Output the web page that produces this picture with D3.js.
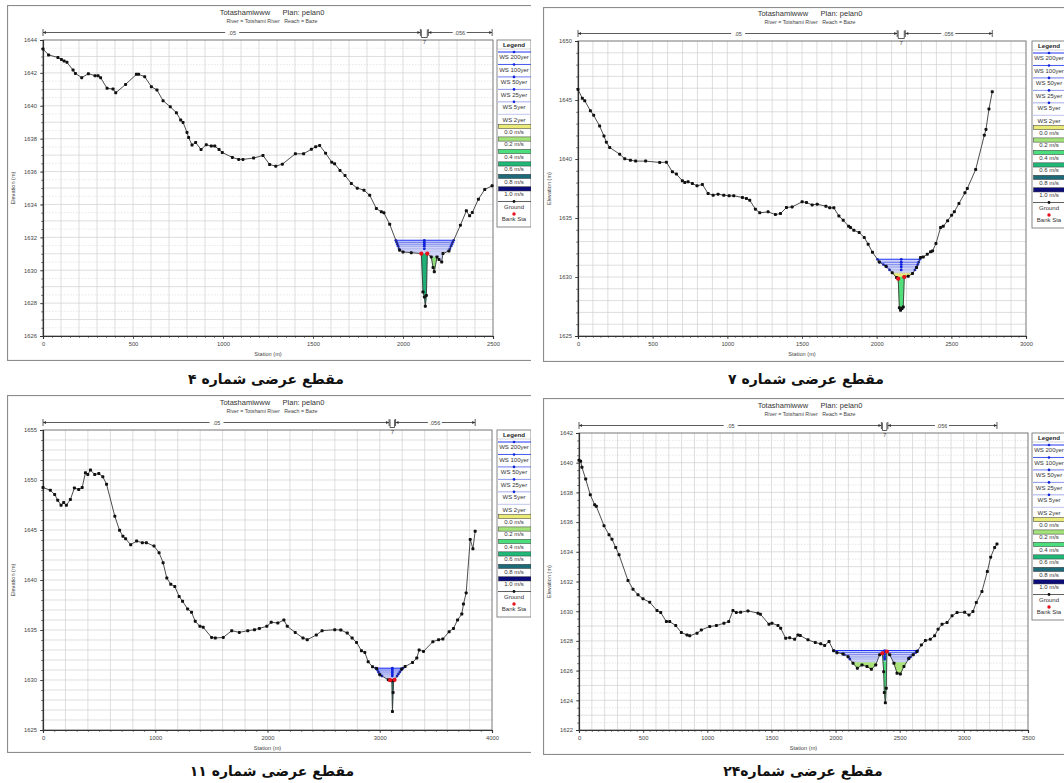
<!DOCTYPE html>
<html>
<head>
<meta charset="utf-8">
<script src="https://cdn.jsdelivr.net/npm/d3@7"></script>
<style>
  body { margin: 0; background: #fff; }
  svg { display: block; font-family: "Liberation Sans", Arial, sans-serif; }
</style>
</head>
<body>
<svg id="chart" width="1064" height="783"></svg>
<script>
const sec4Station = [0,31,83,102,117,133,167,180,215,252,289,306,320,356,389,404,459,519,531,565,602,633,667,707,741,765,778,800,809,828,848,878,907,935,954,978,996,1052,1087,1111,1170,1222,1259,1293,1330,1402,1448,1491,1515,1537,1570,1604,1620,1650,1678,1713,1746,1783,1815,1852,1880,1894,1926,1981,2000,2046,2102,2111,2119,2124,2130,2135,2157,2167,2174,2189,2200,2215,2222,2255,2319,2352,2370,2385,2419,2454,2495];
const sec4Elev = [1643.45,1643.09,1642.94,1642.82,1642.72,1642.64,1642.17,1641.97,1641.71,1641.95,1641.83,1641.83,1641.71,1641.06,1641.02,1640.79,1641.30,1641.91,1641.91,1641.77,1641.16,1640.96,1640.31,1639.94,1639.58,1639.13,1638.99,1638.38,1638.07,1637.61,1637.77,1637.34,1637.63,1637.55,1637.55,1637.34,1637.16,1636.86,1636.74,1636.74,1636.82,1636.98,1636.43,1636.33,1636.45,1637.08,1637.08,1637.36,1637.51,1637.59,1637.12,1636.57,1636.47,1636.07,1635.76,1635.27,1634.99,1634.87,1634.56,1633.75,1633.55,1633.49,1632.80,1631.22,1631.11,1631.07,1631.01,1628.68,1628.37,1627.81,1628.47,1631.01,1630.81,1630.16,1629.90,1630.81,1630.65,1630.50,1631.01,1631.17,1632.74,1633.61,1633.31,1633.51,1634.32,1634.91,1635.13];
const sec4WS = [1631.82, 1631.70, 1631.58, 1631.46, 1631.30, 1631.15];
const sec4Banks = [2102, 2135];
const sec4Vel = [[2095, 2140, 1631.0, 0.62], [2150, 2195, 1630.8, 0.25]];

const sec7Station = [0,29,45,83,105,145,174,190,212,279,313,351,386,453,547,592,632,659,699,715,737,766,797,833,871,905,938,976,1012,1043,1101,1128,1150,1188,1217,1273,1322,1356,1396,1434,1501,1530,1568,1602,1660,1686,1713,1747,1776,1812,1825,1847,1883,1917,1943,1972,2017,2062,2104,2133,2144,2152,2160,2170,2178,2185,2211,2240,2267,2294,2312,2339,2361,2374,2397,2428,2446,2475,2502,2520,2551,2591,2607,2663,2721,2732,2752,2774];
const sec7Elev = [1645.90,1645.14,1644.94,1644.09,1643.70,1642.79,1641.94,1641.43,1640.98,1640.41,1640.02,1639.90,1639.82,1639.82,1639.71,1639.73,1638.91,1638.72,1638.15,1638.01,1638.07,1637.92,1637.73,1637.84,1637.08,1636.93,1637.02,1636.93,1636.88,1636.88,1636.74,1636.65,1636.51,1635.75,1635.44,1635.52,1635.29,1635.38,1635.89,1635.94,1636.37,1636.31,1636.11,1636.17,1636.00,1635.86,1635.86,1635.18,1634.81,1634.30,1634.19,1633.96,1633.77,1633.34,1632.78,1632.10,1631.28,1630.91,1630.37,1629.95,1629.86,1627.40,1627.18,1627.32,1627.46,1630.00,1630.06,1630.29,1630.80,1631.65,1631.70,1631.93,1632.13,1632.21,1632.83,1634.19,1634.30,1634.76,1635.24,1635.52,1636.23,1637.13,1637.50,1639.11,1642.02,1642.51,1644.23,1645.70];
const sec7WS = [1631.50, 1631.25, 1631.05, 1630.85, 1630.60, 1630.35];
const sec7Banks = [2144, 2185];
const sec7Vel = [[2090, 2260, 1630.35, 0.0], [2120, 2200, 1630.0, 0.38]];

const sec11Station = [0,65,104,131,161,184,208,244,280,318,349,378,399,423,461,497,533,566,640,682,712,736,781,834,885,921,989,1034,1070,1103,1138,1174,1213,1243,1288,1323,1356,1398,1427,1502,1535,1606,1681,1749,1824,1884,1928,1994,2033,2092,2146,2176,2247,2316,2354,2435,2486,2599,2653,2710,2754,2793,2837,2867,2897,2936,2972,3001,3076,3092,3108,3113,3119,3124,3132,3196,3226,3292,3330,3351,3390,3473,3524,3562,3618,3657,3693,3731,3746,3770,3806,3830,3850];
const sec11Elev = [1649.25,1648.98,1648.55,1647.98,1647.48,1647.74,1647.48,1648.05,1649.21,1649.05,1649.25,1650.72,1650.55,1650.99,1650.55,1650.65,1650.32,1649.58,1646.37,1644.97,1644.37,1644.13,1643.53,1643.89,1643.73,1643.73,1643.39,1642.73,1641.73,1640.19,1639.58,1639.35,1638.35,1637.88,1637.11,1636.78,1635.87,1635.37,1635.27,1634.26,1634.20,1634.26,1634.93,1634.76,1634.93,1635.03,1635.16,1635.37,1635.77,1635.70,1636.00,1635.37,1634.76,1634.20,1634.03,1634.50,1634.93,1635.03,1635.00,1634.70,1634.20,1633.76,1632.93,1632.76,1631.82,1631.32,1631.15,1630.52,1630.02,1629.98,1629.92,1626.84,1628.75,1629.95,1630.02,1631.09,1631.35,1631.75,1632.20,1632.99,1632.86,1633.83,1634.03,1634.10,1634.83,1635.16,1636.00,1636.60,1637.60,1638.71,1644.06,1643.13,1644.87];
const sec11WS = [1631.18, 1631.00, 1630.80, 1630.60, 1630.40, 1630.20];
const sec11Banks = [3092, 3132];
const sec11Vel = [[3080, 3140, 1630.0, 0.72]];

const sec24Station = [0,13,23,52,88,122,135,195,234,257,286,312,382,421,460,499,551,608,637,681,707,754,798,842,863,920,954,1019,1071,1130,1167,1200,1226,1260,1317,1395,1414,1481,1504,1551,1572,1611,1642,1681,1707,1725,1785,1842,1884,1915,1949,1985,2011,2058,2097,2136,2170,2206,2245,2279,2313,2344,2365,2375,2380,2388,2395,2400,2422,2455,2479,2505,2533,2572,2604,2635,2669,2700,2739,2772,2799,2830,2869,2908,2947,3006,3040,3071,3097,3141,3183,3209,3240,3258];
const sec24Elev = [1640.16,1640.09,1639.69,1638.90,1637.84,1637.17,1637.06,1635.75,1635.15,1634.85,1634.29,1633.80,1632.07,1631.48,1631.10,1630.83,1630.61,1630.04,1629.91,1629.30,1629.30,1629.03,1628.56,1628.40,1628.34,1628.52,1628.74,1628.97,1629.03,1629.19,1629.30,1630.04,1629.91,1629.93,1630.02,1629.87,1629.80,1629.12,1629.19,1629.03,1628.85,1628.18,1628.22,1628.11,1628.40,1628.36,1628.07,1627.89,1627.80,1627.69,1627.96,1627.33,1627.21,1627.12,1626.94,1626.49,1626.16,1626.38,1626.27,1626.09,1626.38,1627.06,1627.17,1625.93,1624.52,1623.84,1624.81,1627.28,1627.06,1626.49,1625.82,1625.77,1626.27,1626.83,1627.06,1627.28,1627.73,1628.02,1628.11,1628.34,1628.79,1629.12,1629.24,1629.69,1629.91,1629.93,1629.75,1629.98,1630.58,1631.33,1632.67,1633.64,1634.29,1634.52];
const sec24WS = [1627.35, 1627.22, 1627.08, 1626.92, 1626.78, 1626.62];
const sec24Banks = [2365, 2400];
const sec24Vel = [[2080, 2340, 1626.55, 0.18], [2430, 2620, 1626.55, 0.18], [2350, 2420, 1627.15, 0.40]];

const wsNames = ["WS 200yer", "WS 100yer", "WS 50yer", "WS 25yer", "WS 5yer", "WS 2yer"];
const velValues = [0.0, 0.2, 0.4, 0.6, 0.8, 1.0];
const velLabels = ["0.0 m/s", "0.2 m/s", "0.4 m/s", "0.6 m/s", "0.8 m/s", "1.0 m/s"];
const captions = ["مقطع عرضی شماره ۴", "مقطع عرضی شماره ۷", "مقطع عرضی شماره ۱۱", "مقطع عرضی شماره۲۴"];
const titleText = "Totashamiwww      Plan: pelan0";
const subText = "River = Totshami River   Reach = Baze";

// colours
const wsColors = ["#1f33f5", "#4656ee", "#6c79ec", "#8a94ea", "#a5acea", "#c0c5ee"];
const velColors = ["#eaea78", "#a4e27a", "#4ade7c", "#1fb877", "#1e6a78", "#0c0c7a"];
const velColor = d3.scaleLinear().domain(velValues).range(velColors);

// axis setup per section
const sections = [
  { st: sec4Station, el: sec4Elev, ws: sec4WS, banks: sec4Banks, vel: sec4Vel, xMax: 2500, yDom: [1626, 1644], xLab: 500, xGrid: 100, yLab: 2, yHalf: true },
  { st: sec7Station, el: sec7Elev, ws: sec7WS, banks: sec7Banks, vel: sec7Vel, xMax: 3000, yDom: [1625, 1650], xLab: 500, xGrid: 100, yLab: 5, yHalf: false },
  { st: sec11Station, el: sec11Elev, ws: sec11WS, banks: sec11Banks, vel: sec11Vel, xMax: 4000, yDom: [1625, 1655], xLab: 1000, xGrid: 200, yLab: 5, yHalf: false },
  { st: sec24Station, el: sec24Elev, ws: sec24WS, banks: sec24Banks, vel: sec24Vel, xMax: 3500, yDom: [1622, 1642], xLab: 500, xGrid: 100, yLab: 2, yHalf: true }
];

// page layout of the four panels
const layout = [
  { frame: [7, 5, 524, 356], plot: [43, 40, 493, 336], legendX: 497, titleX: 272, capX: 266, capY: 384 },
  { frame: [543, 7, 530, 355], plot: [578, 41, 1026, 336], legendX: 1032, titleX: 810, capX: 806, capY: 384 },
  { frame: [7, 395, 524, 358], plot: [43, 430, 492, 730], legendX: 497, titleX: 272, capX: 272, capY: 776 },
  { frame: [543, 398, 530, 357], plot: [579, 433, 1028, 730], legendX: 1032, titleX: 810, capX: 803, capY: 776 }
];

const svg = d3.select("#chart");

// areas of the ground lying below a level
function wetPolys(st, el, level) {
  const polys = [];
  let cur = null;
  for (let i = 0; i < st.length; i++) {
    const below = el[i] < level;
    if (i > 0) {
      const wasBelow = el[i - 1] < level;
      if (below !== wasBelow) {
        const t = (level - el[i - 1]) / (el[i] - el[i - 1]);
        const sx = st[i - 1] + t * (st[i] - st[i - 1]);
        if (below) cur = [[sx, level]];
        else { cur.push([sx, level]); polys.push(cur); cur = null; }
      }
    } else if (below) cur = [[st[0], level]];
    if (below) cur.push([st[i], el[i]]);
  }
  if (cur) { cur.push([st[st.length - 1], level]); polys.push(cur); }
  return polys;
}

function drawLegend(g, lx, ty) {
  const w = 34, rh = 12.46;
  g.append("rect").attr("x", lx).attr("y", ty).attr("width", w).attr("height", 187)
    .attr("fill", "#fff").attr("stroke", "#7a7a7a").attr("stroke-width", 0.9);
  g.append("text").attr("x", lx + w / 2).attr("y", ty + 7).attr("text-anchor", "middle")
    .attr("font-size", 6.2).attr("font-weight", "bold").attr("fill", "#222").text("Legend");
  g.append("line").attr("x1", lx).attr("x2", lx + w).attr("y1", ty + 9).attr("y2", ty + 9)
    .attr("stroke", "#aaa").attr("stroke-width", 0.5);
  const rows = wsNames.map((n, i) => ({ type: "ws", i, label: n }))
    .concat(velLabels.map((n, i) => ({ type: "vel", i, label: n })))
    .concat([{ type: "ground", label: "Ground" }, { type: "bank", label: "Bank Sta" }]);
  rows.forEach((r, k) => {
    const sy = ty + 12 + k * rh;
    const tyy = sy + 7.2;
    const cx = lx + w / 2;
    if (r.type === "ws") {
      g.append("line").attr("x1", lx + 1).attr("x2", lx + w).attr("y1", sy).attr("y2", sy)
        .attr("stroke", wsColors[r.i]).attr("stroke-width", 1);
      if (r.i < 5) g.append("circle").attr("cx", cx).attr("cy", sy).attr("r", 1.3).attr("fill", "#1122dd");
    } else if (r.type === "vel") {
      g.append("rect").attr("x", lx + 1.5).attr("y", sy - 2.3).attr("width", w - 1.5).attr("height", 4.2)
        .attr("fill", velColor(velValues[r.i])).attr("stroke", "#333").attr("stroke-width", 0.5);
    } else if (r.type === "ground") {
      g.append("line").attr("x1", lx + 1).attr("x2", lx + w).attr("y1", sy).attr("y2", sy)
        .attr("stroke", "#333").attr("stroke-width", 0.8);
      g.append("circle").attr("cx", cx).attr("cy", sy).attr("r", 1.4).attr("fill", "#111");
    } else {
      g.append("circle").attr("cx", cx).attr("cy", sy).attr("r", 1.7).attr("fill", "#e8101a");
    }
    g.append("text").attr("x", cx).attr("y", tyy).attr("text-anchor", "middle")
      .attr("font-size", 6).attr("fill", "#333").text(r.label);
  });
}

sections.forEach((s, idx) => {
  const L = layout[idx];
  const [fx, fy, fw, fh] = L.frame;
  const [pl, pt, pr, pb] = L.plot;

  svg.append("clipPath").attr("id", "clip" + idx)
    .append("rect").attr("x", fx).attr("y", fy).attr("width", fw).attr("height", fh);

  const g = svg.append("g").attr("clip-path", `url(#clip${idx})`);

  // outer frame
  g.append("rect").attr("x", fx + 0.5).attr("y", fy + 0.5).attr("width", fw + 20).attr("height", fh - 1)
    .attr("fill", "#fff").attr("stroke", "#8c8c8c").attr("stroke-width", 1.2);

  const x = d3.scaleLinear().domain([0, s.xMax]).range([pl, pr]);
  const y = d3.scaleLinear().domain(s.yDom).range([pb, pt]);

  // grid
  const grid = g.append("g");
  grid.selectAll(".vx").data(d3.range(s.xGrid, s.xMax, s.xGrid)).join("line")
    .attr("x1", d => x(d)).attr("x2", d => x(d)).attr("y1", pt).attr("y2", pb)
    .attr("stroke", "#d0d0d0").attr("stroke-width", 0.7);
  grid.selectAll(".hy").data(d3.range(s.yDom[0] + 1, s.yDom[1], 1)).join("line")
    .attr("x1", pl).attr("x2", pr).attr("y1", d => y(d)).attr("y2", d => y(d))
    .attr("stroke", "#d0d0d0").attr("stroke-width", 0.7);
  if (s.yHalf) {
    grid.selectAll(".hh").data(d3.range(s.yDom[0] + 0.5, s.yDom[1], 1)).join("line")
      .attr("x1", pl).attr("x2", pr).attr("y1", d => y(d)).attr("y2", d => y(d))
      .attr("stroke", "#d8d8d8").attr("stroke-width", 0.6).attr("stroke-dasharray", "1.5,1.5");
  }
  g.append("rect").attr("x", pl).attr("y", pt).attr("width", pr - pl).attr("height", pb - pt)
    .attr("fill", "none").attr("stroke", "#777").attr("stroke-width", 1);

  // axes
  const yAxis = d3.axisLeft(y).tickValues(d3.range(s.yDom[0], s.yDom[1] + 0.01, s.yLab))
    .tickFormat(d3.format("d")).tickSize(3);
  const yMinor = d3.axisLeft(y).tickValues(d3.range(s.yDom[0], s.yDom[1] + 0.01, s.yHalf ? 0.5 : 1))
    .tickFormat("").tickSize(1.8);
  const xAxis = d3.axisBottom(x).tickValues(d3.range(0, s.xMax + 1, s.xLab))
    .tickFormat(d3.format("d")).tickSize(3);
  const xMinor = d3.axisBottom(x).tickValues(d3.range(0, s.xMax + 1, s.xGrid / 2))
    .tickFormat("").tickSize(1.8);
  [[yMinor, `translate(${pl},0)`], [yAxis, `translate(${pl},0)`],
   [xMinor, `translate(0,${pb})`], [xAxis, `translate(0,${pb})`]].forEach(([ax, tr]) => {
    const a = g.append("g").attr("transform", tr).call(ax);
    a.select(".domain").attr("stroke", "#333").attr("stroke-width", 1.1);
    a.selectAll(".tick line").attr("stroke", "#333").attr("stroke-width", 0.7);
    a.selectAll("text").attr("font-size", 5.8).attr("fill", "#444")
      .attr("font-family", "Liberation Sans, Arial, sans-serif");
  });

  g.append("text").attr("x", (pl + pr) / 2).attr("y", pb + 20).attr("text-anchor", "middle")
    .attr("font-size", 5.6).attr("fill", "#444").text("Station (m)");
  g.append("text").attr("transform", `translate(${fx + 8},${(pt + pb) / 2}) rotate(-90)`)
    .attr("text-anchor", "middle").attr("font-size", 5.6).attr("fill", "#444").text("Elevation (m)");

  // titles
  g.append("text").attr("x", L.titleX).attr("y", pt - 25).attr("text-anchor", "middle")
    .attr("font-size", 7.5).attr("fill", "#333").style("white-space", "pre").text(titleText);
  g.append("text").attr("x", L.titleX).attr("y", pt - 17).attr("text-anchor", "middle")
    .attr("font-size", 5.3).attr("fill", "#444").style("white-space", "pre").text(subText);

  // manning's n bar
  const my = pt - 7.5;
  const s0 = s.st[0], s1 = s.st[s.st.length - 1];
  const bl = x(s.banks[0]), br = x(s.banks[1]);
  const man = g.append("g").attr("stroke", "#333").attr("stroke-width", 0.8).attr("fill", "none");
  man.append("line").attr("x1", x(s0)).attr("x2", bl - 1).attr("y1", my).attr("y2", my);
  man.append("line").attr("x1", br + 1).attr("x2", x(s1)).attr("y1", my).attr("y2", my);
  [x(s0), bl - 1, br + 1, x(s1)].forEach(px => {
    man.append("line").attr("x1", px).attr("x2", px).attr("y1", my - 3.5).attr("y2", my + 3.5);
  });
  man.append("path").attr("d", `M${bl},${my - 3}V${my + 5}H${br}V${my - 3}`);
  const arrows = [[x(s0), 1], [bl - 1, -1], [br + 1, 1], [x(s1), -1]];
  arrows.forEach(([px, dir]) => {
    g.append("path").attr("d", `M${px},${my}l${dir * 3},-1.4v2.8z`).attr("fill", "#333");
  });
  [[(x(s0) + bl) / 2, ".05"], [(br + x(s1)) / 2, ".056"]].forEach(([px, lab]) => {
    g.append("rect").attr("x", px - 7).attr("y", my - 3).attr("width", 14).attr("height", 6).attr("fill", "#fff");
    g.append("text").attr("x", px).attr("y", my + 2).attr("text-anchor", "middle")
      .attr("font-size", 5.5).attr("fill", "#444").text(lab);
  });
  g.append("text").attr("x", (bl + br) / 2).attr("y", my + 11).attr("text-anchor", "middle")
    .attr("font-size", 6).attr("fill", "#444").text("7");

  // water
  const line = d3.line().x(d => x(d[0])).y(d => y(d[1]));
  const plotG = g.append("g");
  wetPolys(s.st, s.el, s.ws[0]).forEach(p => {
    plotG.append("path").attr("d", line(p) + "Z").attr("fill", "#c9cef6").attr("opacity", 0.9);
  });
  // velocity fills
  s.vel.forEach(([a, b, top, v]) => {
    wetPolys(s.st, s.el, top)
      .filter(p => { const m = (p[0][0] + p[p.length - 1][0]) / 2; return m >= a && m <= b; })
      .forEach(p => {
        plotG.append("path").attr("d", line(p) + "Z").attr("fill", velColor(v))
          .attr("stroke", velColor(v)).attr("stroke-width", 0.4);
      });
  });
  // WS lines, lowest first
  s.ws.map((lev, i) => ({ lev, i })).reverse().forEach(({ lev, i }) => {
    const polys = wetPolys(s.st, s.el, lev);
    polys.forEach(p => {
      plotG.append("line").attr("x1", x(p[0][0])).attr("x2", x(p[p.length - 1][0]))
        .attr("y1", y(lev)).attr("y2", y(lev)).attr("stroke", wsColors[i]).attr("stroke-width", i === 0 ? 1.1 : 0.8);
    });
    if (i < 5 && polys.length) {
      const ends = [polys[0][0][0], polys[polys.length - 1][polys[polys.length - 1].length - 1][0], (s.banks[0] + s.banks[1]) / 2];
      ends.forEach(e => plotG.append("circle").attr("cx", x(e)).attr("cy", y(lev)).attr("r", 1.4).attr("fill", "#1122dd"));
    }
  });
  // ground
  const gpts = s.st.map((d, i) => [d, s.el[i]]);
  plotG.append("path").attr("d", line(gpts)).attr("fill", "none").attr("stroke", "#3a3a3a").attr("stroke-width", 0.9);
  plotG.selectAll(".gp").data(gpts).join("rect")
    .attr("x", d => x(d[0]) - 1.5).attr("y", d => y(d[1]) - 1.5).attr("width", 3).attr("height", 3)
    .attr("rx", 0.8).attr("fill", "#111");
  s.banks.forEach(b => {
    const k = s.st.indexOf(b);
    plotG.append("circle").attr("cx", x(b)).attr("cy", y(s.el[k])).attr("r", 2.1).attr("fill", "#e8101a");
  });

  drawLegend(g, L.legendX, pt);

  // caption under the panel
  svg.append("text").attr("x", L.capX).attr("y", L.capY).attr("text-anchor", "middle")
    .attr("font-family", "DejaVu Sans, sans-serif").attr("font-weight", "bold").attr("font-size", 14)
    .attr("fill", "#111").text(captions[idx]);
});
</script>
</body>
</html>
